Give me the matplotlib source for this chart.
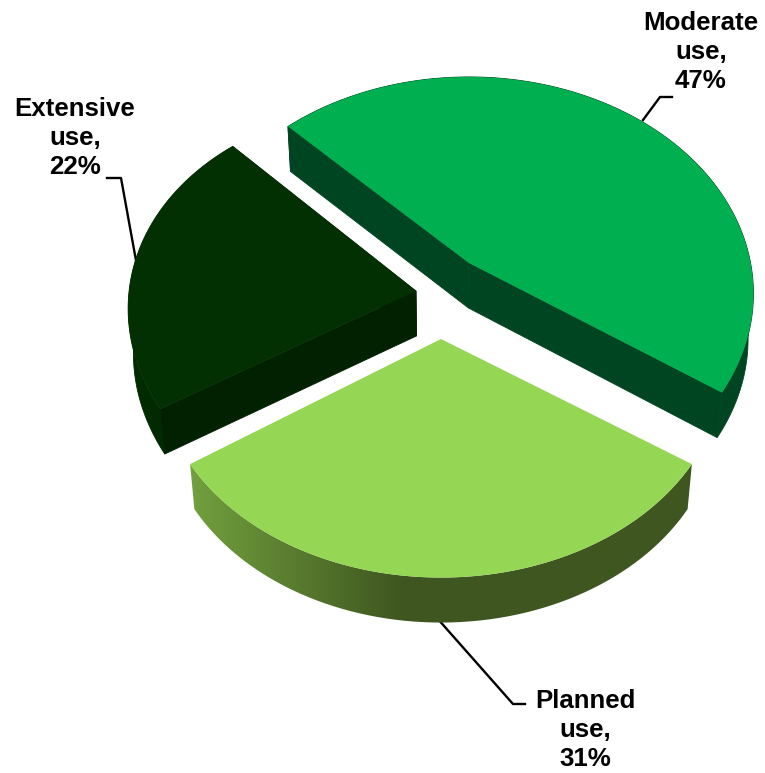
import numpy as np
import matplotlib
matplotlib.use("Agg")
import matplotlib.pyplot as plt
from matplotlib.patches import PathPatch
from matplotlib.path import Path

categories = ["Moderate", "Extensive", "Planned"]
values = [47, 22, 31]

# perspective of the pie plane, all in picture pixels
FOCAL = 285
TILT = 0.725
PERSP = 0.141
DEPTH = 45
BOTTOM_SCALE = 0.983  # lower face is a bit smaller than the top one
BOTTOM_CX = 440
START = -34.2

apex = {"Moderate": (469, 263), "Extensive": (416, 291), "Planned": (441, 339)}
focal_scale = {"Moderate": 0.988, "Extensive": 1.0, "Planned": 0.98}
tilt_scale = {"Moderate": 1.04, "Extensive": 1.027, "Planned": 1.012}
shear = {"Moderate": 0.0, "Extensive": 0.045, "Planned": 0.0}
top_colors = {"Moderate": "#00B050", "Extensive": "#033003", "Planned": "#96D655"}
cut_colors = {"Moderate": "#004522", "Extensive": "#012100", "Planned": "#3F5620"}
rim_colors = {"Moderate": "#004522", "Extensive": "#012A01", "Planned": "#3F5620"}


def project(name, r, ang):
    x = r * np.cos(ang)
    y = r * np.sin(ang)
    w = 1 + PERSP * y
    ax0, ay0 = apex[name]
    f = FOCAL * focal_scale[name]
    dx = f * x / w
    return ax0 + dx, ay0 - f * TILT * tilt_scale[name] * y / w + shear[name] * dx


def lower(xs, ys):
    return BOTTOM_CX + (np.asarray(xs) - BOTTOM_CX) * BOTTOM_SCALE, np.asarray(ys) + DEPTH


def draw_slice(ax, name, a0, a1):
    ang = np.linspace(a0, a1, 200)
    xs, ys = project(name, 1.0, ang)
    cx, cy = apex[name]
    bx, by = lower(xs, ys)
    bcx, bcy = lower(cx, cy)

    # rim first, then the two cut faces, then the top on all of it
    rim = np.column_stack([np.r_[xs, bx[::-1]], np.r_[ys, by[::-1]]])
    if name == "Planned":
        # this rim has a shaded look going from left to right
        patch = PathPatch(Path(rim), facecolor="none", edgecolor="none")
        ax.add_patch(patch)
        grad = np.linspace(0, 1, 256)
        c0 = np.array([0x72, 0xA0, 0x3E]) / 255
        c1 = np.array(matplotlib.colors.to_rgb(rim_colors[name]))
        t = np.clip(grad / 0.42, 0, 1)[None, :, None]
        img = c0 * (1 - t) + c1 * t
        im = ax.imshow(img, extent=(xs.min(), xs.max(), by.max(), ys.min()),
                       aspect="auto", zorder=2)
        im.set_clip_path(patch)
    else:
        ax.fill(rim[:, 0], rim[:, 1], color=rim_colors[name], lw=0.6, zorder=2)
        for i in (0, -1):
            ax.fill([cx, xs[i], bx[i], bcx], [cy, ys[i], by[i], bcy],
                    color=cut_colors[name], lw=0.6, zorder=2)
    ax.fill(np.r_[cx, xs], np.r_[cy, ys], color=top_colors[name], lw=0, zorder=3)


fig = plt.figure(figsize=(7.65, 7.73), dpi=100)
ax = fig.add_axes([0, 0, 1, 1])

start = np.radians(START)
for name, val in zip(categories, values):
    end = start + np.radians(val * 3.6)
    draw_slice(ax, name, start, end)
    start = end

# leader lines
ax.plot([643, 660, 672], [120, 97, 97], color="black", lw=1.7, zorder=4)
ax.plot([137, 121, 107], [266, 178, 178], color="black", lw=1.7, zorder=1)
ax.plot([437, 513, 525], [618, 704, 704], color="black", lw=1.7, zorder=1)

label_pos = {"Moderate": (701, 52), "Extensive": (75, 138), "Planned": (585, 730)}
for name, val in zip(categories, values):
    lx, ly = label_pos[name]
    ax.text(lx, ly, f"{name}\nuse,\n{val}%", ha="center", va="center", fontsize=18.6,
            fontweight="bold", family="Liberation Sans", linespacing=1.28, zorder=5)

ax.set_xlim(0, 765)
ax.set_ylim(773, 0)
ax.axis("off")
fig.savefig("out.png", dpi=100)
